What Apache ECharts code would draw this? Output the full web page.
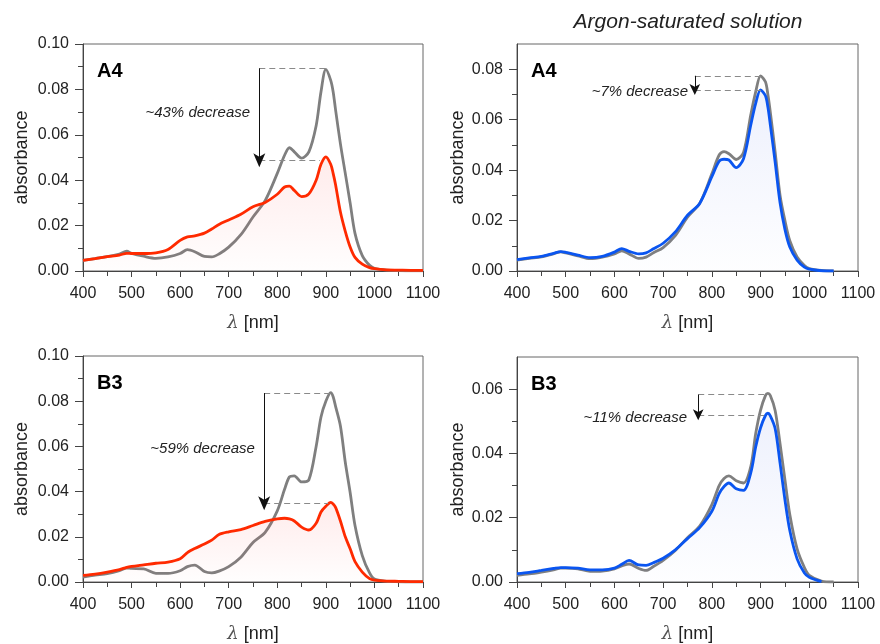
<!DOCTYPE html>
<html>
<head>
<meta charset="utf-8">
<script src="https://cdn.jsdelivr.net/npm/echarts@6/dist/echarts.min.js"></script>
<style>
html,body{margin:0;padding:0;background:#fff;}
#main{width:880px;height:644px;}
</style>
</head>
<body>
<div id="main"></div>
<script>
// wavelengths (nm)
const wl = [400,425,450,475,490,500,525,550,575,600,615,630,650,665,680,700,725,750,775,800,815,825,835,850,865,880,890,900,910,915,920,930,940,950,960,975,990,1000,1025,1050,1075,1100];

// A4, air (gray = before, red = after)
const a4Gray = [0.0047,0.0055,0.0063,0.0075,0.0087,0.0078,0.0065,0.0056,0.0062,0.0077,0.0094,0.0085,0.0064,0.0062,0.0075,0.0105,0.016,0.0238,0.031,0.043,0.051,0.0543,0.0525,0.0497,0.0525,0.064,0.079,0.0888,0.084,0.079,0.071,0.056,0.043,0.030,0.0166,0.0068,0.0025,0.0012,0.0004,0.0002,0.0001,0.0001];
const a4Red  = [0.0047,0.0055,0.0063,0.007,0.0078,0.0077,0.0077,0.008,0.0095,0.0135,0.015,0.0155,0.0167,0.0185,0.0205,0.0225,0.025,0.0283,0.0302,0.0338,0.037,0.0374,0.0355,0.0328,0.034,0.040,0.047,0.0503,0.047,0.043,0.038,0.026,0.0175,0.0106,0.006,0.003,0.0015,0.001,0.0005,0.0004,0.0003,0.0003];
// A4, argon (gray = before, blue = after)
const a4ArGray = [0.0043,0.005,0.0056,0.0068,0.0076,0.0072,0.006,0.0049,0.0055,0.0068,0.008,0.0068,0.005,0.0055,0.0072,0.0093,0.014,0.0213,0.0268,0.0385,0.046,0.0473,0.0465,0.0442,0.047,0.062,0.071,0.0774,0.075,0.070,0.063,0.047,0.030,0.020,0.012,0.0056,0.0022,0.001,0.0002,0.0,null,null];
const a4ArBlue = [0.0045,0.0052,0.0058,0.007,0.0077,0.0074,0.0063,0.0053,0.0058,0.0075,0.0089,0.0078,0.0068,0.0072,0.0088,0.011,0.0155,0.0221,0.0268,0.0374,0.0435,0.0443,0.044,0.041,0.0445,0.058,0.0665,0.0718,0.0695,0.065,0.058,0.043,0.027,0.0165,0.0095,0.0043,0.0015,0.0007,0.0001,0.0,null,null];
// B3, air
const b3Gray = [0.0022,0.003,0.0037,0.005,0.0062,0.006,0.0058,0.0038,0.0038,0.005,0.0068,0.0075,0.0046,0.004,0.0048,0.0068,0.011,0.0175,0.022,0.0315,0.041,0.0465,0.047,0.0443,0.0452,0.060,0.073,0.080,0.0838,0.082,0.0777,0.069,0.053,0.0396,0.025,0.0117,0.004,0.0013,0.0003,0.0001,0.0,0.0];
const b3Red  = [0.0029,0.0035,0.0044,0.0055,0.0065,0.0069,0.0076,0.0083,0.0088,0.0103,0.013,0.0148,0.0168,0.0185,0.021,0.0222,0.0232,0.025,0.0268,0.0279,0.0282,0.0279,0.027,0.0243,0.023,0.026,0.031,0.0335,0.0352,0.0345,0.033,0.027,0.020,0.0147,0.009,0.0044,0.0015,0.0008,0.0004,0.0003,0.0002,0.0002];
// B3, argon
const b3ArGray = [0.0021,0.0025,0.0031,0.0038,0.0043,0.0043,0.0041,0.0033,0.0034,0.0041,0.005,0.0056,0.0042,0.0036,0.0048,0.0067,0.0098,0.0138,0.0174,0.0241,0.030,0.0322,0.033,0.0315,0.0308,0.036,0.0462,0.0535,0.058,0.0587,0.058,0.0533,0.043,0.0318,0.021,0.0103,0.0045,0.0021,0.0003,0.0,null,null];
const b3ArBlue = [0.0026,0.003,0.0036,0.0042,0.0045,0.0045,0.0043,0.0038,0.0038,0.0043,0.0055,0.0067,0.0053,0.0052,0.006,0.0074,0.010,0.0135,0.0169,0.022,0.0275,0.0297,0.0308,0.029,0.0285,0.034,0.042,0.048,0.0518,0.0525,0.0517,0.0477,0.037,0.0256,0.016,0.0072,0.0028,0.0015,0.0001,null,null,null];

// axis ticks
const xMax = 1100, xMin = 400;
const yMaxes = [0.10, 0.09, 0.10, 0.07];
const yMajor = [
  [0,0.02,0.04,0.06,0.08,0.10],
  [0,0.02,0.04,0.06,0.08],
  [0,0.02,0.04,0.06,0.08,0.10],
  [0,0.02,0.04,0.06]
];
const yMinor = [
  [0.01,0.03,0.05,0.07,0.09],
  [0.01,0.03,0.05,0.07],
  [0.01,0.03,0.05,0.07,0.09],
  [0.01,0.03,0.05]
];
const panelLabels = ['A4','A4','B3','B3'];
const titleText = 'Argon-saturated solution';
const yName = 'absorbance';

// annotations (data coordinates)
const annotations = [
  {ax: 763, top: 0.0893, bot: 0.0488, topEnd: 901, botEnd: 888, text: '~43% decrease', tx: 744, ty: 0.0697, big: true},
  {ax: 765, top: 0.0774, bot: 0.0718, topEnd: 901, botEnd: 901, text: '~7% decrease', tx: 751, ty: 0.0711, big: false},
  {ax: 773, top: 0.0836, bot: 0.0348, topEnd: 909, botEnd: 905, text: '~59% decrease', tx: 754, ty: 0.0589, big: true},
  {ax: 772, top: 0.0583, bot: 0.0519, topEnd: 913, botEnd: 913, text: '~11% decrease', tx: 749, ty: 0.0511, big: false}
];

const seriesSets = [
  [a4Gray, a4Red, 'red'],
  [a4ArGray, a4ArBlue, 'blue'],
  [b3Gray, b3Red, 'red'],
  [b3ArGray, b3ArBlue, 'blue']
];

const FONT = 'Liberation Sans, Arial, sans-serif';
const grids = [
  {left: 83, right: 457, top: 44, bottom: 373},
  {left: 517, right: 22, top: 44, bottom: 373},
  {left: 83, right: 457, top: 356, bottom: 61},
  {left: 517, right: 22, top: 357, bottom: 61}
];
const yNameGaps = [52, 50, 52, 50];

const chart = echarts.init(document.getElementById('main'));

const xAxes = [], yAxes = [], series = [];
grids.forEach((g, i) => {
  g.show = true; g.borderColor = '#666'; g.borderWidth = 1; g.backgroundColor = 'transparent';
  xAxes.push({
    type: 'value', gridIndex: i, min: xMin, max: xMax, interval: 100, position: 'bottom',
    name: '{l|λ} [nm]', nameLocation: 'middle', nameGap: 43,
    nameTextStyle: {fontFamily: FONT, fontSize: 18, color: '#222', rich: {l: {fontStyle: 'italic', color: '#555', fontSize: 18, fontFamily: 'DejaVu Serif'}}},
    axisLine: {show: true, lineStyle: {color: '#444', width: 1}},
    axisTick: {show: true, inside: false, length: 6, lineStyle: {color: '#444'}},
    minorTick: {show: true, splitNumber: 2, length: 5, lineStyle: {color: '#444'}},
    axisLabel: {fontFamily: FONT, fontSize: 16, color: '#222', margin: 15, formatter: v => String(v)},
    splitLine: {show: false}
  });
  yAxes.push({
    type: 'value', gridIndex: i, min: 0, max: yMaxes[i], position: 'left',
    name: yName, nameLocation: 'middle', nameGap: yNameGaps[i],
    nameTextStyle: {fontFamily: FONT, fontSize: 18, color: '#222'},
    axisLine: {show: true, lineStyle: {color: '#444', width: 1}},
    axisTick: {show: true, length: 8, customValues: yMajor[i], lineStyle: {color: '#444'}},
    axisLabel: {fontFamily: FONT, fontSize: 16, color: '#222', margin: 14, customValues: yMajor[i], formatter: v => v.toFixed(2)},
    splitLine: {show: false}
  });
  yAxes.push({
    type: 'value', gridIndex: i, min: 0, max: yMaxes[i], position: 'left', offset: 0,
    axisLine: {show: false},
    axisTick: {show: true, length: 5, customValues: yMinor[i], lineStyle: {color: '#444'}},
    axisLabel: {show: false},
    splitLine: {show: false}
  });
  const [g0, c0, kind] = seriesSets[i];
  const col = kind === 'red' ? '#ff2a00' : '#0a55f0';
  const fillTop = kind === 'red' ? 'rgba(255,80,80,0.16)' : 'rgba(80,110,230,0.14)';
  const fillBot = kind === 'red' ? 'rgba(255,80,80,0.01)' : 'rgba(80,110,230,0.01)';
  const yIdx = i * 2;
  series.push({
    type: 'line', xAxisIndex: i, yAxisIndex: yIdx, showSymbol: false, smooth: 0.3,
    data: wl.map((x, k) => [x, g0[k]]),
    lineStyle: {color: '#7f7f7f', width: 2.8}, itemStyle: {color: '#7f7f7f'}, z: 2
  });
  const a = annotations[i];
  const dash = {type: [6, 4], color: '#8a8a8a', width: 1};
  series.push({
    type: 'line', xAxisIndex: i, yAxisIndex: yIdx, showSymbol: false, smooth: 0.3,
    data: wl.map((x, k) => [x, c0[k]]),
    lineStyle: {color: col, width: 2.8}, itemStyle: {color: col}, z: 3,
    areaStyle: {color: new echarts.graphic.LinearGradient(0, 0, 0, 1, [{offset: 0, color: fillTop}, {offset: 1, color: fillBot}])},
    markLine: {
      silent: true, animation: false, symbol: ['none', 'none'], label: {show: false},
      data: [
        [{coord: [a.ax, a.top], lineStyle: dash}, {coord: [a.topEnd, a.top]}],
        [{coord: [a.ax, a.bot], lineStyle: dash}, {coord: [a.botEnd, a.bot]}],
        [{coord: [a.ax, a.top], lineStyle: {type: 'solid', color: '#111', width: 1}, symbol: 'none'},
         {coord: [a.ax, a.bot], symbol: 'arrow', symbolSize: a.big ? [9, 14] : [8, 11], symbolOffset: [0, a.big ? -7 : -5]}]
      ]
    }
  });
});

const option = {
  animation: false,
  backgroundColor: '#fff',
  grid: grids, xAxis: xAxes, yAxis: yAxes, series: series
};
chart.setOption(option);

// text elements placed through the chart's own coordinate system
const graphics = [];
grids.forEach((g, i) => {
  const a = annotations[i];
  const p = chart.convertToPixel({xAxisIndex: i, yAxisIndex: i * 2}, [a.tx, a.ty]);
  graphics.push({type: 'text', x: p[0], y: p[1], style: {text: a.text, fill: '#222', font: 'italic 15px ' + FONT, align: 'right', verticalAlign: 'middle'}});
  const o = chart.convertToPixel({xAxisIndex: i, yAxisIndex: i * 2}, [xMin, yMaxes[i]]);
  graphics.push({type: 'text', x: o[0] + 14, y: o[1] + 27, style: {text: panelLabels[i], fill: '#000', font: 'bold 20px ' + FONT, verticalAlign: 'middle'}});
});
graphics.push({type: 'text', x: 688, y: 22, style: {text: titleText, fill: '#222', font: 'italic 21px ' + FONT, align: 'center', verticalAlign: 'middle'}});
chart.setOption({graphic: graphics});
</script>
</body>
</html>
